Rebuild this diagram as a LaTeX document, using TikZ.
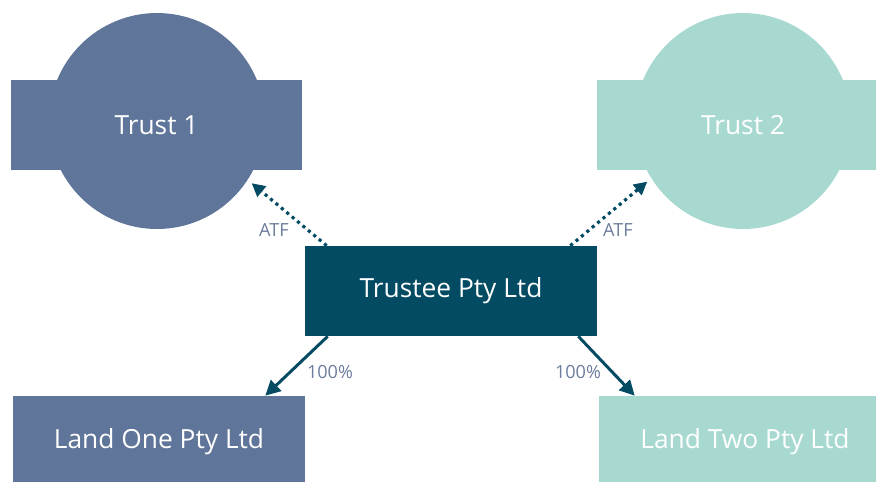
\documentclass[tikz,border=0pt]{standalone}
\usepackage{fontspec}
\setmainfont{Open Sans}
\usetikzlibrary{arrows.meta}
\definecolor{trustblue}{HTML}{5F7599}
\definecolor{trustmint}{HTML}{A7D9D0}
\definecolor{trusteeteal}{HTML}{034A63}
\definecolor{labelgrey}{HTML}{6D7C9C}
\begin{document}
\begin{tikzpicture}[x=0.02cm, y=-0.02cm,
  box/.style={rectangle, minimum width=5.84cm, minimum height=1.8cm, inner sep=0pt, text=white, font=\fontsize{15}{18}\selectfont},
  disc/.style={circle, minimum size=4.32cm, inner sep=0pt},
  lbl/.style={text=labelgrey, inner sep=0pt, font=\fontsize{10.3}{12}\selectfont},
  own/.style={draw=trusteeteal, line width=1.7pt, -{Triangle[length=8.5pt, width=8.5pt]}},
  atf/.style={draw=trusteeteal, line width=1.8pt, dash pattern=on 1.8pt off 2.2pt, -{Triangle[length=7.5pt, width=7.5pt]}}]
\useasboundingbox (0,0) rectangle (876,481);
\node[disc, fill=trustblue] (trust1c) at (157,121){};
\node[box, fill=trustblue] (trust1) at (156.5,125){Trust 1};
\node[disc, fill=trustmint] (trust2c) at (743,121){};
\node[box, fill=trustmint] (trust2) at (743,125){Trust 2};
\node[box, fill=trusteeteal] (trustee) at (451,291){Trustee Pty Ltd};
\node[box, fill=trustblue, minimum height=1.84cm] (land1) at (159,442){Land One Pty Ltd};
\node[box, fill=trustmint, minimum height=1.84cm] (land2) at (745,442){Land Two Pty Ltd};
\node[lbl] (atf1) at (274,230){ATF};
\node[lbl] (atf2) at (618,230){ATF};
\node[lbl] (own1) at (330,372){100\%};
\node[lbl] (own2) at (578,372){100\%};
\draw[atf, shorten >=0.1cm]([xshift=0.44cm]trustee.north west) -- (trust1c.-33);
\draw[atf, shorten >=0.1cm]([xshift=-0.54cm]trustee.north east) -- (trust2c.212);
\draw[own]([xshift=0.46cm]trustee.south west) -- ([xshift=-0.8cm]land1.north east);
\draw[own]([xshift=-0.38cm]trustee.south east) -- ([xshift=0.72cm]land2.north west);
\end{tikzpicture}
\end{document}
